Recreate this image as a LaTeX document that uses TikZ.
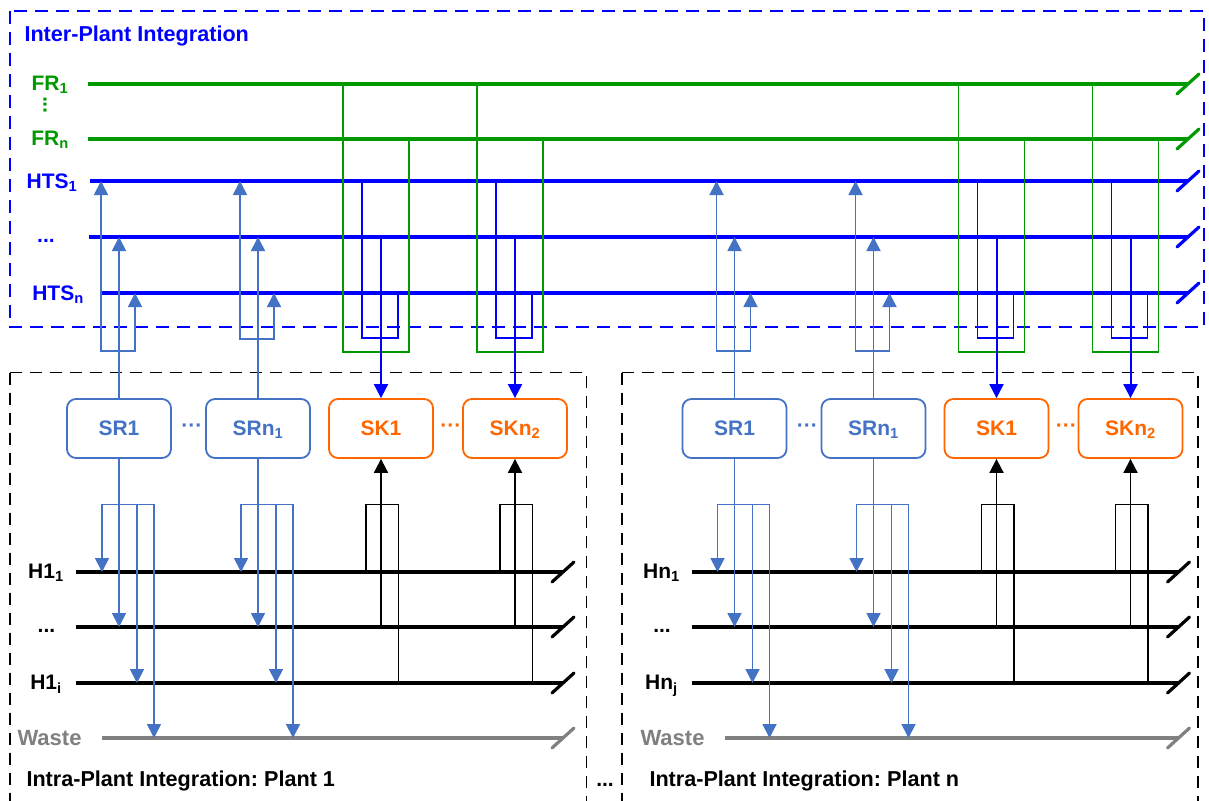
\documentclass[tikz,border=0pt]{standalone}
\usepackage{fontspec}
\setmainfont{Liberation Sans}
\usetikzlibrary{arrows.meta}
\definecolor{IPBlue}{HTML}{0000FF}
\definecolor{IPGreen}{HTML}{009900}
\definecolor{IPSource}{HTML}{4472C4}
\definecolor{IPSink}{HTML}{FF6600}
\definecolor{IPWaste}{HTML}{808080}
\newcommand{\ipsub}[1]{\textsubscript{#1}}
\frenchspacing
\tikzset{
  bus/.style={line width=3.2pt},
  busend/.style={line width=3.2pt,line cap=round},
  oneway/.style={-{Triangle[length=14pt,width=14pt]}},
  twoway/.style={{Triangle[length=14pt,width=14pt]}-{Triangle[length=14pt,width=14pt]}},
  srline/.style={IPSource,line width=1.8pt},
  kline/.style={black,line width=1.8pt},
  htsthin/.style={IPBlue,line width=1.6pt},
  frthin/.style={IPGreen,line width=1.6pt},
  unitbox/.style={rounded corners=9pt,line width=1.8pt,minimum width=104pt,minimum height=59pt,text height=14pt,text depth=0pt},
  srbox/.style={unitbox,draw=IPSource,text=IPSource},
  skbox/.style={unitbox,draw=IPSink,text=IPSink},
  title/.style={font=\bfseries\fontsize{21.6}{26}\selectfont,anchor=base west},
}

\begin{document}
\begin{tikzpicture}[x=1pt,y=-1pt,font=\bfseries\fontsize{21}{25}\selectfont]
\useasboundingbox (0,0) rectangle (1209,800);
\draw[IPBlue,line width=2pt,dash pattern=on 13pt off 8pt] (10,11) rectangle (1204,327);
\node[title,IPBlue] (inter) at (21,41.7) {Inter-Plant Integration};
\foreach \b/\xs/\y/\c in {fr1/88/84/IPGreen,frn/88/139/IPGreen,hts1/90/181/IPBlue,htsm/89/237/IPBlue,htsn/101/293/IPBlue}{
  \coordinate (\b) at (\xs,\y);
  \coordinate (e\b) at (1188,\y);
  \draw[bus,\c] (\b) -- (e\b);
  \draw[busend,\c] ([xshift=-11pt,yshift=-10pt]e\b) -- ([xshift=11pt,yshift=10pt]e\b);
}
\node[anchor=base,IPGreen] (lfr1) at (50,90) {FR\ipsub{1}};
\node[IPGreen,rotate=90] (lfrdots) at (45,105) {...};
\node[anchor=base,IPGreen] (lfrn) at (50,145) {FR\ipsub{n}};
\node[anchor=base,IPBlue] (lhts1) at (52,188) {HTS\ipsub{1}};
\node[anchor=base,IPBlue] (lhtsm) at (46,242.5) {...};
\node[anchor=base,IPBlue] (lhtsn) at (58,300) {HTS\ipsub{n}};
\node[anchor=base] (plantdots) at (605,786) {...};
\foreach \p/\dx/\hl/\wx/\bx/\ry in {1/0/i/102/10/339,n/615.5/j/725/621.7/351}{
  \draw[line width=1.8pt,dash pattern=on 12pt off 8pt] (\bx,372.5) rectangle (\bx+576.5,812);
  \node[title] (intra\p) at (\wx-79,786) {Intra-Plant Integration: Plant \p};
  \node[srbox] (sra\p) at (119+\dx,428.5) {SR1};
  \node[srbox] (srb\p) at (258+\dx,428.5) {SRn\ipsub{1}};
  \node[skbox] (ska\p) at (381+\dx,428.5) {SK1};
  \node[skbox] (skb\p) at (515+\dx,428.5) {SKn\ipsub{2}};
  \node[IPSource] (srdots\p) at ([xshift=20pt]sra\p.east) {···};
  \node[IPSink] (skdots\p) at ([xshift=17pt]ska\p.east) {···};
  \foreach \h/\y in {ha/572,hm/627,hi/683}{
    \coordinate (\h\p) at (76+\dx,\y);
    \coordinate (e\h\p) at (563+\dx,\y);
    \draw[bus] (\h\p) -- (e\h\p);
    \draw[busend] ([xshift=-11pt,yshift=-10pt]e\h\p) -- ([xshift=11pt,yshift=10pt]e\h\p);
  }
  \coordinate (w\p) at (\wx,738);
  \coordinate (ew\p) at (563+\dx,738);
  \draw[bus,IPWaste] (w\p) -- (ew\p);
  \draw[busend,IPWaste] ([xshift=-11pt,yshift=-10pt]ew\p) -- ([xshift=11pt,yshift=10pt]ew\p);
  \node[anchor=base] (lha\p) at (46+\dx,578.5) {H\p\ipsub{1}};
  \node[anchor=base] (lhm\p) at (46.5+\dx,632.5) {...};
  \node[anchor=base] (lhi\p) at (46+\dx,689.5) {H\p\ipsub{\hl}};
  \node[anchor=base,IPWaste,font=\bfseries\fontsize{22}{26}\selectfont] (lw\p) at (\wx-52.5,745) {Waste};
  \foreach \s/\yb in {sra\p/351,srb\p/\ry}{
    \draw[srline,oneway] (\s.north) -- (\s.north |- htsm);
    \draw[srline,twoway] ([xshift=-18pt]\s.north |- hts1) -- ([xshift=-18pt]\s.north |- 0,\yb) -| ([xshift=16pt]\s.north |- htsn);
    \draw[srline,oneway] (\s.south) -- (\s.south |- hm\p);
    \draw[srline,twoway] ([xshift=-17pt]\s.south |- ha\p) |- ([xshift=35pt]\s.south |- 0,504.5) -- ([xshift=35pt]\s.south |- w\p);
    \draw[srline,oneway] ([xshift=18pt]\s.south |- 0,504.5) -- ([xshift=18pt]\s.south |- hi\p);
  }
  \foreach \k in {ska\p,skb\p}{
    \draw[frthin] ([xshift=-38pt]\k.north |- fr1) |- ([xshift=28pt]\k.north |- 0,352) -- ([xshift=28pt]\k.north |- frn);
    \draw[htsthin] ([xshift=-19pt]\k.north |- hts1) |- ([xshift=17pt]\k.north |- 0,338) -- ([xshift=17pt]\k.north |- htsn);
    \draw[IPBlue,line width=2pt,oneway] (\k.north |- htsm) -- (\k.north);
    \draw[kline,oneway] (\k.south |- hm\p) -- (\k.south);
    \draw[kline] ([xshift=-15pt]\k.south |- ha\p) |- ([xshift=17.5pt]\k.south |- 0,504.5) -- ([xshift=17.5pt]\k.south |- hi\p);
  }
}
\end{tikzpicture}
\end{document}
